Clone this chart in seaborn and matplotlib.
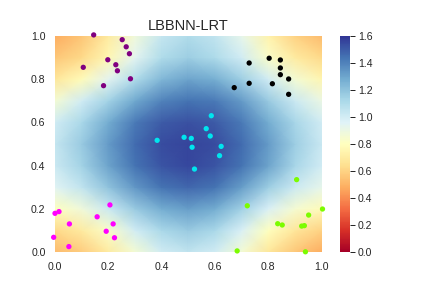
import numpy as np
import pandas as pd
import matplotlib
matplotlib.use("Agg")
import matplotlib.pyplot as plt
import seaborn as sns

# grid of background values (rows: y from 0 to 1, cols: x from 0 to 1)
grid_x = [0.0, 0.1, 0.2, 0.3, 0.4, 0.5, 0.6, 0.7, 0.8, 0.9, 1.0]
grid_y = [0.0, 0.1, 0.2, 0.3, 0.4, 0.5, 0.6, 0.7, 0.8, 0.9, 1.0]
row_y00 = [0.52, 0.58, 0.70, 0.86, 1.00, 1.05, 1.00, 0.86, 0.68, 0.56, 0.48]
row_y01 = [0.62, 0.70, 0.83, 1.00, 1.12, 1.17, 1.12, 0.98, 0.80, 0.68, 0.60]
row_y02 = [0.80, 0.88, 1.02, 1.17, 1.28, 1.32, 1.28, 1.15, 0.98, 0.85, 0.78]
row_y03 = [0.95, 1.05, 1.20, 1.34, 1.44, 1.47, 1.44, 1.32, 1.16, 1.02, 0.92]
row_y04 = [1.02, 1.14, 1.30, 1.44, 1.52, 1.55, 1.52, 1.44, 1.30, 1.13, 1.00]
row_y05 = [1.04, 1.17, 1.33, 1.46, 1.54, 1.56, 1.54, 1.46, 1.33, 1.16, 1.03]
row_y06 = [1.00, 1.12, 1.28, 1.42, 1.50, 1.53, 1.50, 1.42, 1.28, 1.13, 1.00]
row_y07 = [0.86, 1.00, 1.14, 1.29, 1.40, 1.44, 1.42, 1.33, 1.17, 1.02, 0.90]
row_y08 = [0.68, 0.78, 0.94, 1.10, 1.24, 1.30, 1.27, 1.16, 1.00, 0.86, 0.75]
row_y09 = [0.56, 0.62, 0.76, 0.94, 1.10, 1.16, 1.11, 1.00, 0.83, 0.70, 0.62]
row_y10 = [0.48, 0.55, 0.70, 0.88, 1.04, 1.10, 1.05, 0.92, 0.74, 0.60, 0.52]

# scatter clusters
purple_x = [0.145, 0.252, 0.267, 0.279, 0.198, 0.106, 0.228, 0.234, 0.283, 0.182]
purple_y = [1.005, 0.983, 0.950, 0.918, 0.890, 0.855, 0.867, 0.839, 0.802, 0.770]
black_x = [0.728, 0.803, 0.845, 0.845, 0.845, 0.876, 0.728, 0.815, 0.672, 0.876]
black_y = [0.875, 0.897, 0.889, 0.852, 0.821, 0.801, 0.781, 0.779, 0.761, 0.730]
cyan_x = [0.586, 0.567, 0.484, 0.511, 0.582, 0.383, 0.514, 0.623, 0.617, 0.523]
cyan_y = [0.631, 0.571, 0.531, 0.526, 0.537, 0.517, 0.485, 0.489, 0.446, 0.384]
magenta_x = [0.206, 0.015, 0.000, 0.158, 0.054, 0.218, 0.192, -0.005, 0.223, 0.052]
magenta_y = [0.218, 0.187, 0.179, 0.163, 0.130, 0.130, 0.096, 0.068, 0.066, 0.025]
green_x = [0.906, 0.721, 1.003, 0.951, 0.835, 0.852, 0.925, 0.935, 0.683, 0.939]
green_y = [0.335, 0.214, 0.199, 0.171, 0.131, 0.125, 0.120, 0.122, 0.005, 0.001]

title = "LBBNN-LRT"
cbar_ticks = [0.0, 0.2, 0.4, 0.6, 0.8, 1.0, 1.2, 1.4, 1.6]
axis_ticks = [0.0, 0.2, 0.4, 0.6, 0.8, 1.0]

sns.set_theme(style="white", context="notebook")
plt.rcParams["font.family"] = ["Liberation Sans", "DejaVu Sans"]

Z = np.array([row_y00, row_y01, row_y02, row_y03, row_y04, row_y05,
              row_y06, row_y07, row_y08, row_y09, row_y10])

fig = plt.figure(figsize=(6, 4), dpi=72)
ax = fig.add_axes([55 / 432, 36 / 288, 266.7 / 432, 216 / 288])
cax = fig.add_axes([340 / 432, 36 / 288, 9.5 / 432, 216 / 288])

mesh = ax.pcolormesh(grid_x, grid_y, Z, cmap="RdYlBu", vmin=0, vmax=1.6,
                     shading="gouraud", rasterized=True)

frames = []
for name, xs, ys in [("purple", purple_x, purple_y), ("black", black_x, black_y),
                     ("cyan", cyan_x, cyan_y), ("magenta", magenta_x, magenta_y),
                     ("green", green_x, green_y)]:
    frames.append(pd.DataFrame({"x": xs, "y": ys, "cluster": name}))
df = pd.concat(frames, ignore_index=True)
palette = {"purple": "#800080", "black": "#000000", "cyan": "#00e5ee",
           "magenta": "#ff00ff", "green": "#7cfc00"}
sns.scatterplot(data=df, x="x", y="y", hue="cluster", palette=palette,
                s=28, linewidth=0, legend=False, ax=ax, clip_on=False, zorder=3)

ax.set_xlim(0, 1)
ax.set_ylim(0, 1)
ax.set_xticks(axis_ticks)
ax.set_yticks(axis_ticks)
ax.set_xlabel("")
ax.set_ylabel("")
ax.tick_params(labelsize=10.5, colors="#262626")
for s in ax.spines.values():
    s.set_visible(False)
ax.set_title(title, fontsize=14.5, color="#262626")

cb = fig.colorbar(mesh, cax=cax, ticks=cbar_ticks)
cb.outline.set_visible(False)
cb.ax.tick_params(labelsize=10.5, length=5, width=1, color="#262626",
                  labelcolor="#262626")

fig.savefig("out.png", dpi=72)
